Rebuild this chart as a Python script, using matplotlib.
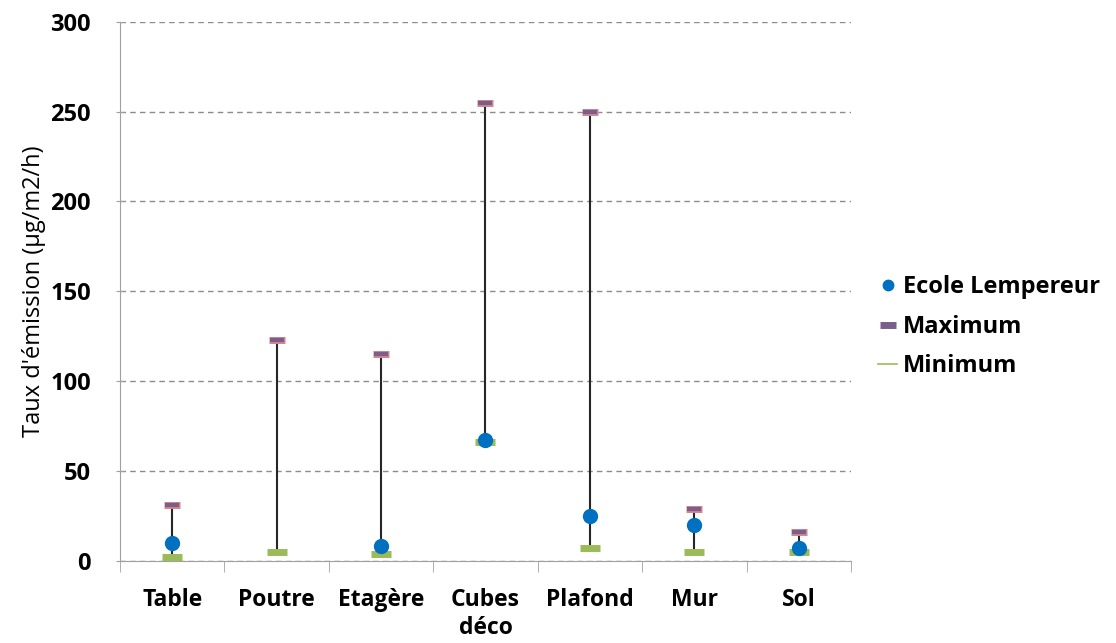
import numpy as np
import matplotlib.pyplot as plt
from matplotlib.lines import Line2D

categories = ["Table", "Poutre", "Etagère", "Cubes\ndéco", "Plafond", "Mur", "Sol"]
ecole = [10, np.nan, 8, 67, 25, 20, 7]
maximum = [31, 123, 115, 255, 250, 29, 16]
minimum = [2, 5, 4, 66, 7, 5, 5]

plt.rcParams['font.family'] = ['Open Sans', 'DejaVu Sans']
plt.rcParams['font.weight'] = 'bold'

fig = plt.figure(figsize=(11.16, 6.43), dpi=100)
ax = fig.add_axes([0.1075, 0.128, 0.655, 0.838])

x = np.arange(len(categories))

# high-low lines
ax.vlines(x, minimum, maximum, color='#262626', lw=1.5, zorder=2)

ax.plot(x, minimum, ls='none', marker='_', ms=15, mew=5, color='#9bbb59', zorder=3)
ax.plot(x, maximum, ls='none', marker='_', ms=12, mew=5, color='#d9828a', zorder=3)
ax.plot(x, maximum, ls='none', marker='_', ms=10.5, mew=3, color='#7a5f8c', zorder=4)
ax.plot(x, ecole, ls='none', marker='o', ms=10, color='#0070c0', zorder=5)

ax.set_xlim(-0.5, len(categories) - 0.5)
ax.set_ylim(0, 300)
ax.set_yticks(range(0, 301, 50))
ax.set_xticks(x)
ax.set_xticklabels(categories, fontweight='bold')
ax.tick_params(axis='x', length=0, pad=20, labelsize=16.5)
ax.set_xticks(np.arange(-0.5, len(categories), 1), minor=True)
ax.tick_params(axis='x', which='minor', length=8, color='#a0a0a0')
ax.tick_params(axis='y', length=6, color='#a0a0a0', labelsize=17, direction='inout', pad=18)
plt.setp(ax.get_yticklabels(), fontweight='bold')

ax.grid(axis='y', ls=(0, (4, 3)), color='#8c8c8c', lw=1)
ax.set_axisbelow(True)
for s in ['top', 'right']:
    ax.spines[s].set_visible(False)
for s in ['left', 'bottom']:
    ax.spines[s].set_color('#a0a0a0')

ax.set_ylabel("Taux d'émission (µg/m2/h)", fontsize=17, fontweight='normal', labelpad=3)

handles = [
    Line2D([], [], ls='none', marker='o', ms=7.5, color='#0070c0'),
    Line2D([], [], ls='none', marker='_', ms=12, mew=5, color='#7a5f8c'),
    Line2D([], [], color='#9bbb59', lw=1.2),
]
labels = ['Ecole Lempereur', 'Maximum', 'Minimum']
ax.legend(handles, labels, loc='center left', bbox_to_anchor=(1.0, 0.434),
          frameon=False, prop={'weight': 'bold', 'size': 17}, handlelength=0.8,
          handletextpad=0.25, labelspacing=0.66, borderaxespad=0.75)

fig.savefig('out.png', dpi=100)
